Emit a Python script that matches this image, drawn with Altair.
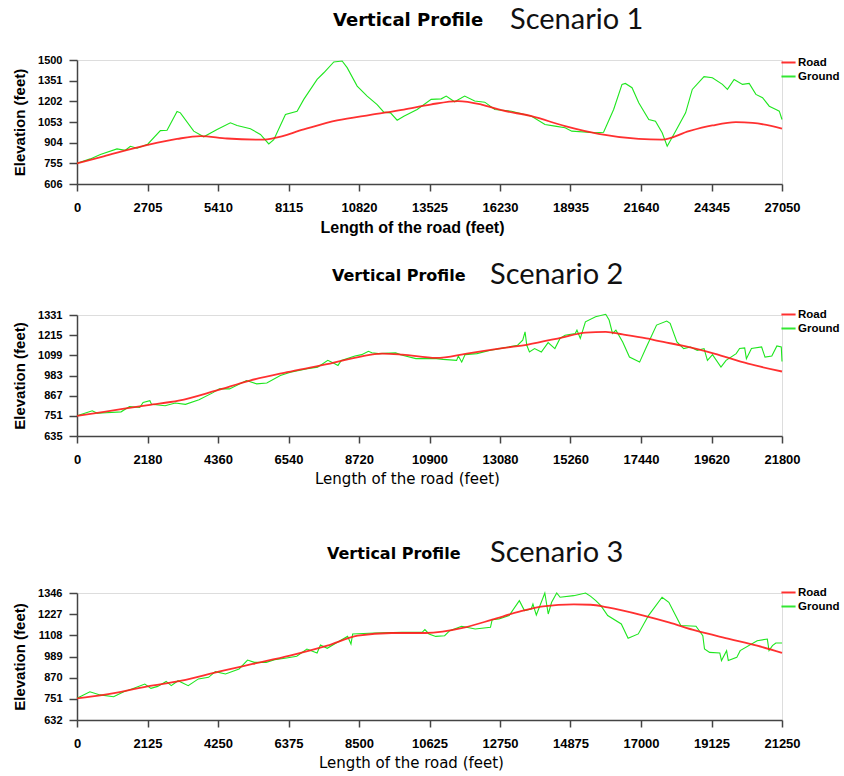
import altair as alt
import pandas as pd

# ---------------- Scenario 1 ----------------
s1_road_x = [0, 1024, 2713, 3839, 4735, 5758, 7166, 7550, 8701, 9980, 11260, 12540, 13563,
             14617, 15516, 16286, 17442, 18727, 20011, 21553, 22452, 23480, 24379, 25278, 25920, 27050]
s1_road_y = [755, 806, 888, 931, 951, 934, 926, 936, 999, 1064, 1105, 1143, 1179,
             1204, 1179, 1138, 1095, 1023, 967, 931, 926, 987, 1028, 1052, 1047, 1006]
s1_ground_x = [0, 512, 896, 1535, 1855, 2047, 2303, 2713, 3199, 3455, 3839, 3967, 4479, 4863,
               5374, 5886, 6142, 6654, 7038, 7358, 7550, 7998, 8445, 8701, 9213, 9469, 9853,
               10173, 10365, 10749, 11133, 11516, 11772, 12028, 12284, 12540, 13051, 13589,
               13974, 14167, 14488, 14874, 15259, 15645, 16030, 16672, 17442, 17956, 18341,
               18727, 18984, 19883, 20204, 20590, 20911, 21040, 21296, 21553, 21938, 22195,
               22452, 22645, 22966, 23351, 23608, 24058, 24379, 24764, 24956, 25213, 25534,
               25791, 26048, 26304, 26561, 26818, 26946, 27050]
s1_ground_y = [755, 787, 818, 859, 849, 878, 864, 893, 991, 994, 1129, 1119, 987, 946,
               999, 1047, 1028, 1004, 963, 895, 926, 1107, 1131, 1216, 1360, 1408, 1486,
               1493, 1445, 1312, 1240, 1179, 1124, 1119, 1066, 1095, 1143, 1216,
               1220, 1240, 1199, 1240, 1204, 1196, 1143, 1131, 1095, 1035, 1023,
               1011, 987, 975, 979, 1143, 1324, 1331, 1300, 1192, 1071, 1059,
               975, 878, 987, 1119, 1288, 1380, 1372, 1324, 1288, 1360, 1324,
               1331, 1252, 1228, 1167, 1143, 1131, 1071]
s1_x_ticks = [0, 2705, 5410, 8115, 10820, 13525, 16230, 18935, 21640, 24345, 27050]
s1_y_ticks = [606, 755, 904, 1053, 1202, 1351, 1500]

# ---------------- Scenario 2 ----------------
s2_road_x = [0, 838, 2201, 3144, 4297, 5345, 6498, 7650, 8698, 9432, 10061, 11109, 12053,
             13206, 13939, 14987, 15721, 16350, 16874, 17607, 18131, 18760, 19703, 20751, 21800]
s2_road_y = [751, 774, 813, 838, 896, 954, 1002, 1045, 1089, 1109, 1103, 1084, 1109,
             1142, 1161, 1201, 1230, 1234, 1219, 1196, 1176, 1153, 1109, 1051, 1006]
s2_ground_x = [0, 472, 629, 1362, 1624, 1939, 2044, 2253, 2306, 2725, 3039, 3354, 3773, 4192,
               4402, 4716, 5240, 5555, 5869, 6288, 6602, 7126, 7441, 7755, 7912, 8070, 8174,
               8594, 8803, 9012, 9117, 9327, 9851, 10061, 10480, 11109, 11319, 11738, 11791,
               11896, 12001, 12367, 12787, 13206, 13625, 13782, 13855, 13908, 13991, 14149,
               14358, 14568, 14777, 14935, 15092, 15406, 15459, 15563, 15721, 16035, 16350,
               16454, 16559, 16664, 16874, 17083, 17397, 17607, 17921, 18236, 18341, 18550,
               18760, 18970, 19179, 19389, 19494, 19651, 19913, 20070, 20384, 20489, 20646,
               20699, 20856, 21170, 21275, 21485, 21642, 21778, 21800]
s2_ground_y = [751, 780, 766, 774, 805, 799, 828, 838, 817, 809, 825, 817, 844, 883,
               906, 906, 954, 935, 940, 983, 1002, 1022, 1031, 1070, 1056, 1041, 1070,
               1095, 1103, 1122, 1114, 1109, 1113, 1099, 1080, 1080, 1076, 1070, 1095,
               1060, 1103, 1109, 1128, 1142, 1157, 1186, 1234, 1157, 1118, 1138,
               1118, 1172, 1138, 1196, 1215, 1225, 1244, 1196, 1292, 1321, 1335,
               1302, 1225, 1244, 1176, 1089, 1060, 1147, 1273, 1296, 1283, 1176,
               1138, 1147, 1128, 1138, 1070, 1103, 1031, 1070, 1109, 1138, 1142,
               1080, 1138, 1147, 1089, 1095, 1153, 1147, 1064]
s2_x_ticks = [0, 2180, 4360, 6540, 8720, 10900, 13080, 15260, 17440, 19620, 21800]
s2_y_ticks = [635, 751, 867, 983, 1099, 1215, 1331]

# ---------------- Scenario 3 ----------------
s3_road_x = [0, 797, 2126, 3148, 4272, 5294, 6418, 7542, 8462, 9484, 10506, 11695, 12514,
             13333, 14050, 14972, 15484, 15996, 17020, 17839, 18658, 19682, 20501, 21250]
s3_road_y = [754, 773, 821, 853, 904, 947, 994, 1050, 1106, 1121, 1121, 1153, 1196,
             1241, 1271, 1282, 1280, 1265, 1222, 1181, 1134, 1087, 1050, 1009]
s3_ground_x = [0, 388, 695, 1104, 1410, 1615, 2044, 2228, 2432, 2688, 2841, 3046, 3352, 3659,
               3965, 4170, 4476, 4885, 5141, 5345, 5703, 5958, 6316, 6623, 6930, 7236, 7338,
               7542, 7849, 8156, 8258, 8309, 8973, 9791, 10404, 10486, 10609, 10813, 11081,
               11235, 11593, 12002, 12463, 12514, 12719, 13026, 13333, 13487, 13692, 13743,
               13845, 14101, 14204, 14306, 14460, 14562, 14972, 15330, 15484, 15637, 15791,
               15996, 16406, 16611, 16918, 17225, 17635, 17839, 18044, 18198, 18658, 18863,
               18914, 19068, 19375, 19426, 19580, 19631, 19887, 19989, 20501, 20808, 20859,
               20962, 21064, 21250]
s3_ground_y = [754, 791, 773, 763, 791, 803, 834, 810, 821, 849, 825, 853, 825, 863,
               872, 904, 891, 919, 969, 956, 956, 971, 981, 990, 1031, 1009, 1054,
               1035, 1069, 1102, 1059, 1116, 1121, 1125, 1125, 1140, 1116, 1102, 1106,
               1134, 1159, 1144, 1153, 1196, 1200, 1219, 1303, 1247, 1256, 1284,
               1222, 1346, 1228, 1294, 1346, 1322, 1331, 1346, 1327, 1303, 1275,
               1219, 1172, 1091, 1116, 1219, 1322, 1294, 1219, 1163, 1159, 1106,
               1031, 1012, 1009, 966, 1022, 966, 984, 1022, 1078, 1087, 1022,
               1050, 1065, 1065]
s3_x_ticks = [0, 2125, 4250, 6375, 8500, 10625, 12750, 14875, 17000, 19125, 21250]
s3_y_ticks = [632, 751, 870, 989, 1108, 1227, 1346]

SERIES = ["Road", "Ground"]
SERIES_COLORS = ["#ff1a1a", "#1ee61e"]
BOLD_FONT = "Liberation Sans"


def series_frame(xs, ys, name):
    return pd.DataFrame({"dist": xs, "elev": ys, "series": name})


def panel(road_x, road_y, ground_x, ground_y, x_ticks, y_ticks, scenario, height,
          x_title_bold, vp_size, vp_x, sc_x, legend_y, title_x):
    data = pd.concat([series_frame(ground_x, ground_y, "Ground"),
                      series_frame(road_x, road_y, "Road")], ignore_index=True)

    x_enc = alt.X(
        "dist:Q",
        scale=alt.Scale(domain=[x_ticks[0], x_ticks[-1]], nice=False, zero=False),
        axis=alt.Axis(
            values=x_ticks, format="d", grid=False, labelFlush=False, labelOverlap=False,
            title="Length of the road (feet)", titleX=title_x, titleAlign="center",
            titleFont=BOLD_FONT if x_title_bold else "DejaVu Sans",
            titleFontWeight="bold" if x_title_bold else "normal",
            titleFontSize=16 if x_title_bold else 15,
            titleColor="#000000", titlePadding=5,
            labelFont=BOLD_FONT, labelFontWeight="bold", labelFontSize=13, labelColor="#000000",
            labelPadding=10, tickSize=7, tickColor="#444444", domainColor="#444444",
            domainWidth=1.5, tickWidth=1.5,
        ),
    )
    y_enc = alt.Y(
        "elev:Q",
        scale=alt.Scale(domain=[y_ticks[0], y_ticks[-1]], nice=False, zero=False),
        axis=alt.Axis(
            values=y_ticks, format="d", grid=False, labelOverlap=False, labelFlush=False,
            title="Elevation (feet)", titleFont=BOLD_FONT, titleFontWeight="bold",
            titleFontSize=15, titleColor="#000000", titlePadding=10,
            labelFont=BOLD_FONT, labelFontWeight="bold", labelFontSize=11, labelColor="#000000",
            labelPadding=7, tickSize=8, tickColor="#444444", domainColor="#444444",
            domainWidth=1.5, tickWidth=1.5,
        ),
    )
    color_enc = alt.Color(
        "series:N",
        scale=alt.Scale(domain=SERIES, range=SERIES_COLORS),
        legend=alt.Legend(
            title=None, orient="none", legendX=703, legendY=legend_y,
            symbolType="stroke", symbolStrokeWidth=2, symbolSize=200,
            labelFont=BOLD_FONT, labelFontWeight="bold", labelFontSize=11.5,
            labelColor="#000000", labelOffset=1, rowPadding=0, padding=0,
        ),
    )

    base = alt.Chart(data).encode(x=x_enc, y=y_enc, color=color_enc)
    ground = base.transform_filter(alt.datum.series == "Ground").mark_line(strokeWidth=1.1)
    road = base.transform_filter(alt.datum.series == "Road").mark_line(
        strokeWidth=1.8, interpolate="monotone", opacity=0.9)

    vp = alt.Chart(pd.DataFrame({"t": ["Vertical Profile"]})).mark_text(
        font="DejaVu Sans", fontWeight="bold", fontSize=vp_size, align="left",
        baseline="alphabetic", color="#000000",
    ).encode(text="t:N", x=alt.value(vp_x), y=alt.value(-34))
    sc = alt.Chart(pd.DataFrame({"t": [scenario]})).mark_text(
        font="Lato", fontSize=29, align="left", baseline="alphabetic", color="#111111",
    ).encode(text="t:N", x=alt.value(sc_x), y=alt.value(-31))

    return alt.layer(ground, road, vp, sc).properties(width=705, height=height)


p1 = panel(s1_road_x, s1_road_y, s1_ground_x, s1_ground_y, s1_x_ticks, s1_y_ticks,
           "Scenario 1", 124, True, 18, 256, 433, -6, 335)
p2 = panel(s2_road_x, s2_road_y, s2_ground_x, s2_ground_y, s2_x_ticks, s2_y_ticks,
           "Scenario 2", 121, False, 16, 255, 413, -9, 330)
p3 = panel(s3_road_x, s3_road_y, s3_ground_x, s3_ground_y, s3_x_ticks, s3_y_ticks,
           "Scenario 3", 127, False, 16, 250, 413, -9, 334)

top = alt.vconcat(p1, p2, spacing=24).resolve_scale(color="independent").resolve_legend(
    color="independent")
chart = alt.vconcat(top, p3, spacing=51).resolve_scale(color="independent").resolve_legend(
    color="independent").properties(
    padding={"left": 12, "top": 5, "right": 0, "bottom": 0}
).configure_view(stroke=None).configure(background="white")

chart.save("out.html", embed_options={"renderer": "svg", "actions": False})
